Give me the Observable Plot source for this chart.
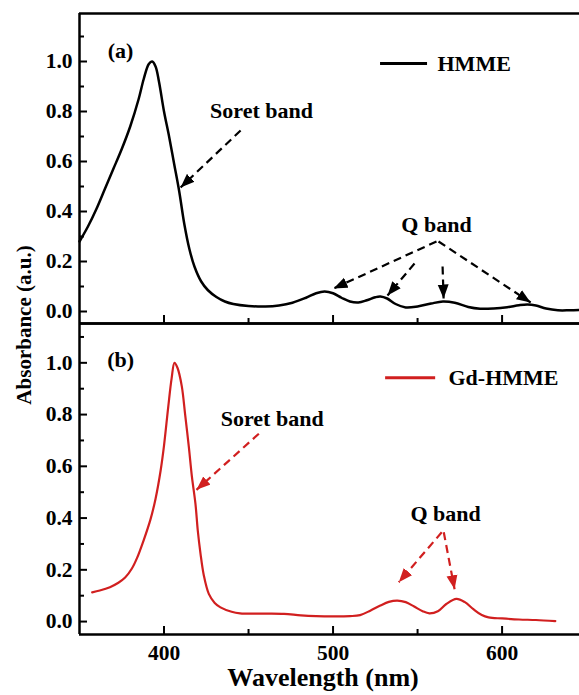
<!DOCTYPE html>
<html><head><meta charset="utf-8">
<script src="https://cdn.jsdelivr.net/npm/d3@7"></script>
<script src="https://cdn.jsdelivr.net/npm/@observablehq/plot@0.6"></script>
<style>
body{margin:0;background:#fff;}
#wrap{position:relative;width:579px;height:695px;overflow:hidden;font-family:"Liberation Serif","DejaVu Serif",serif;font-weight:bold;background:#fff;}
#wrap svg{position:absolute;left:0;}
#ytitle{position:absolute;left:24px;top:325px;transform:translate(-50%,-50%) rotate(-90deg);font-size:21px;white-space:nowrap;color:#000;font-family:"Liberation Serif","DejaVu Serif",serif;}
</style></head><body>
<div id="wrap"><div id="ytitle">Absorbance (a.u.)</div></div>
<script>
// ---- data ----
const hmmeWavelength = [350,355,360,365,370,375,380,385,388,391,393,395,397,400,403,406,409,412,415,418,422,426,431,436,441,450,460,468,476,484,490,495,500,505,510,515,520,525,528,532,537,543,550,558,565,572,580,587,595,603,610,615,620,626,633,640,646];
const hmmeAbsorbance = [0.28,0.34,0.41,0.49,0.57,0.65,0.74,0.85,0.93,0.99,1.0,0.98,0.92,0.80,0.70,0.59,0.48,0.35,0.25,0.18,0.12,0.085,0.058,0.040,0.030,0.022,0.020,0.024,0.035,0.055,0.073,0.080,0.073,0.055,0.040,0.036,0.045,0.057,0.060,0.052,0.030,0.016,0.020,0.032,0.040,0.035,0.018,0.011,0.012,0.017,0.025,0.028,0.024,0.012,0.005,0.005,0.006];
const gdWavelength = [357.5,362,368,373,377,381,384,388,392,395,398,400,402.5,404.5,406.2,408,410.5,412.5,414.7,416.5,418.6,420,421.6,423.5,426.5,430,433.4,440,445,460,471,481,490,500,510,516,522,528,533,538,543,548,553,557,562,567,573,578,583,588,592,600,610,620,631.5];
const gdAbsorbance = [0.113,0.12,0.133,0.15,0.17,0.205,0.245,0.315,0.395,0.475,0.584,0.68,0.83,0.94,1.0,0.98,0.91,0.80,0.674,0.56,0.455,0.35,0.262,0.18,0.107,0.072,0.055,0.038,0.032,0.031,0.030,0.024,0.021,0.020,0.021,0.025,0.042,0.062,0.076,0.081,0.075,0.058,0.040,0.032,0.040,0.068,0.088,0.075,0.048,0.025,0.016,0.012,0.008,0.006,0.002];

const seriesNames = ["HMME", "Gd-HMME"];
const seriesColors = ["#000000", "#d11f1f"];
const xMajorTicks = [400, 500, 600];
const xMinorTicks = [450, 550];
const yMajorTicks = [0, 0.2, 0.4, 0.6, 0.8, 1.0];
const yMinorTicks = [0.1, 0.3, 0.5, 0.7, 0.9, 1.1];
const xTitle = "Wavelength (nm)";

// annotations, panel (a)
const topNoteText = ["(a)", "Soret band", "Q band"];
const topNoteX = [374.3, 457.7, 561.2];
const topNoteY = [1.044, 0.802, 0.348];
const topArrowX1 = [445.3, 561.2, 548.2, 564.8, 562.4];
const topArrowY1 = [0.724, 0.28, 0.192, 0.18, 0.28];
const topArrowX2 = [409.8, 500.3, 532.2, 565.4, 616.9];
const topArrowY2 = [0.496, 0.092, 0.064, 0.052, 0.036];
const topLegendX = [528.1, 555.9, 561.8];
const topLegendY = 0.992;
// annotations, panel (b)
const botNoteText = ["(b)", "Soret band", "Q band"];
const botNoteX = [374.3, 464, 566.6];
const botNoteY = [1.013, 0.785, 0.417];
const botArrowX1 = [456.1, 564.3, 565.5];
const botArrowY1 = [0.726, 0.345, 0.345];
const botArrowX2 = [419.2, 538.9, 571.9];
const botArrowY2 = [0.509, 0.152, 0.125];
const botLegendX = [531.1, 560.7, 568.3];
const botLegendY = 0.942;

const xDomain = [350, 645.8];
const serif = "Liberation Serif, DejaVu Serif, serif";

function addHeads(svg, color, id) {
  const ns = "http://www.w3.org/2000/svg";
  const defs = document.createElementNS(ns, "defs");
  const m = document.createElementNS(ns, "marker");
  m.setAttribute("id", id);
  m.setAttribute("viewBox", "0 -6 14 12");
  m.setAttribute("refX", "14");
  m.setAttribute("refY", "0");
  m.setAttribute("markerWidth", "14");
  m.setAttribute("markerHeight", "12");
  m.setAttribute("markerUnits", "userSpaceOnUse");
  m.setAttribute("orient", "auto");
  const p = document.createElementNS(ns, "path");
  p.setAttribute("d", "M0,-5.5L14,0L0,5.5Z");
  p.setAttribute("fill", color);
  p.setAttribute("stroke", "none");
  m.appendChild(p);
  defs.appendChild(m);
  svg.insertBefore(defs, svg.firstChild);
  svg.querySelectorAll('g[aria-label="link"] path').forEach(el => el.setAttribute("marker-end", `url(#${id})`));
}

function panel(o) {
  const data = o.wl.map((w, i) => ({w, a: o.ab[i]}));
  const notes = o.noteText.map((t, i) => ({t, x: o.noteX[i], y: o.noteY[i]}));
  const arrows = o.ax1.map((x1, i) => ({x1, y1: o.ay1[i], x2: o.ax2[i], y2: o.ay2[i]}));
  const marks = [
    Plot.ruleX([xDomain[0]], {stroke: "#000", strokeWidth: 2.5}),
    Plot.ruleY([o.yDomain[0], o.yDomain[1]], {stroke: "#000", strokeWidth: 2.5}),
    Plot.axisY({ticks: yMajorTicks, tickSize: 8, dx: 8, tickFormat: () => "", strokeWidth: 2, label: null}),
    Plot.axisY({ticks: yMinorTicks, tickSize: 5, dx: 5, tickFormat: () => "", strokeWidth: 2, label: null}),
    Plot.axisY({ticks: yMajorTicks, tickSize: 0, tickPadding: 7, tickFormat: d3.format(".1f"), label: null, fontFamily: serif, fontWeight: "bold", fontSize: 21.5}),
    Plot.axisX({ticks: xMajorTicks, tickSize: 8, dy: -8, tickFormat: () => "", strokeWidth: 2, label: null}),
    Plot.axisX({ticks: xMinorTicks, tickSize: 5, dy: -5, tickFormat: () => "", strokeWidth: 2, label: null}),
    Plot.line(data, {x: "w", y: "a", stroke: o.color, strokeWidth: o.lw, curve: "catmull-rom"}),
    Plot.link(arrows, {x1: "x1", y1: "y1", x2: "x2", y2: "y2", stroke: o.color, strokeWidth: 2.2, strokeDasharray: "8,5"}),
    Plot.text(notes, {x: "x", y: "y", text: "t", fontFamily: serif, fontSize: 22, fontWeight: "bold", fill: "#000", textAnchor: "middle", lineAnchor: "middle"}),
    Plot.ruleY([{y: o.legY, x1: o.legX[0], x2: o.legX[1]}], {y: "y", x1: "x1", x2: "x2", stroke: o.color, strokeWidth: 3}),
    Plot.text([o.name], {x: o.legX[2], y: o.legY, text: d => d, fontFamily: serif, fontSize: 22, fontWeight: "bold", fill: "#000", textAnchor: "start", lineAnchor: "middle"})
  ];
  if (o.xLabels) {
    marks.push(Plot.axisX({ticks: xMajorTicks, tickSize: 0, tickPadding: 10, tickFormat: d => String(d), label: null, fontFamily: serif, fontWeight: "bold", fontSize: 21.5}));
    marks.push(Plot.text([xTitle], {frameAnchor: "bottom", dy: 43, dx: -6.5, text: d => d, fontFamily: serif, fontSize: 26, fontWeight: "bold", fill: "#000", lineAnchor: "middle"}));
  }
  const svg = Plot.plot({
    width: 579, height: o.height,
    marginLeft: 79, marginRight: 0, marginTop: o.mt, marginBottom: o.mb,
    x: {domain: xDomain, label: null},
    y: {domain: o.yDomain, label: null},
    style: {fontFamily: serif, fontWeight: "bold", fontSize: "20px", color: "#000", background: "transparent", overflow: "visible"},
    marks
  });
  svg.setAttribute("font-family", serif);
  svg.querySelectorAll("text").forEach(t => { t.setAttribute("font-family", serif); t.style.fontFamily = serif; });
  addHeads(svg, o.color, o.id);
  svg.style.top = o.top + "px";
  return svg;
}

const wrap = document.getElementById("wrap");
wrap.appendChild(panel({
  wl: hmmeWavelength, ab: hmmeAbsorbance, color: seriesColors[0], name: seriesNames[0], lw: 2.5,
  yDomain: [-0.048, 1.192], height: 324, mt: 13, mb: 1, top: 0, id: "headA",
  noteText: topNoteText, noteX: topNoteX, noteY: topNoteY,
  ax1: topArrowX1, ay1: topArrowY1, ax2: topArrowX2, ay2: topArrowY2,
  legX: topLegendX, legY: topLegendY, xLabels: false
}));
wrap.appendChild(panel({
  wl: gdWavelength, ab: gdAbsorbance, color: seriesColors[1], name: seriesNames[1], lw: 2.2,
  yDomain: [-0.05, 1.152], height: 374, mt: 2, mb: 61, top: 321, id: "headB",
  noteText: botNoteText, noteX: botNoteX, noteY: botNoteY,
  ax1: botArrowX1, ay1: botArrowY1, ax2: botArrowX2, ay2: botArrowY2,
  legX: botLegendX, legY: botLegendY, xLabels: true
}));
</script>
</body></html>
